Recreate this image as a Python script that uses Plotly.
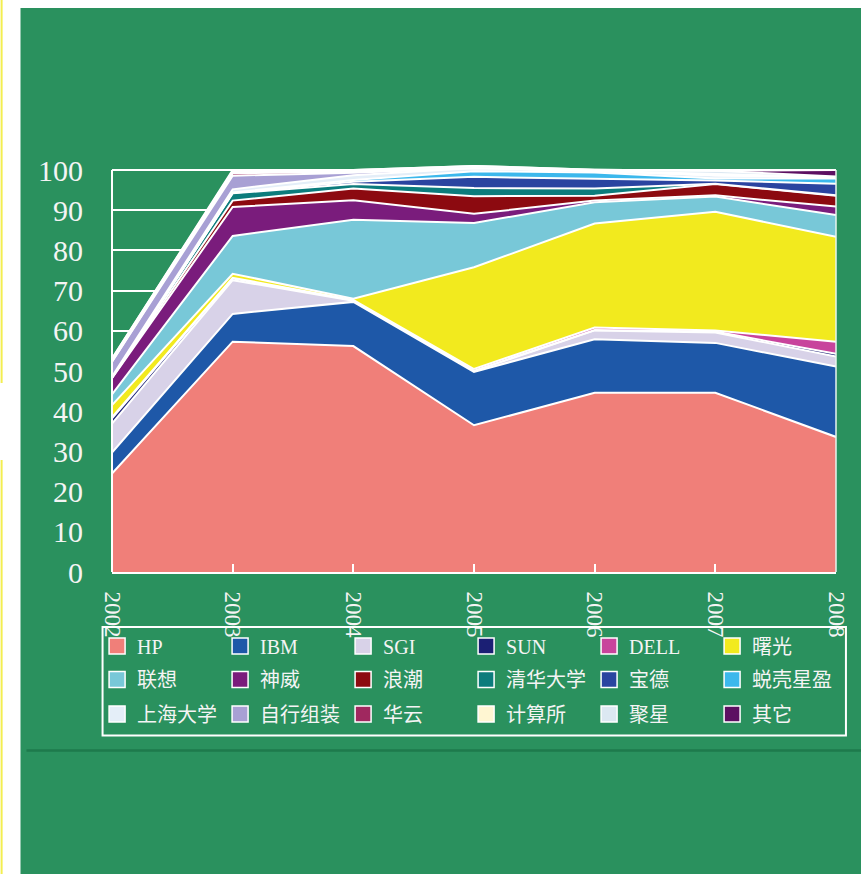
import plotly.graph_objects as go

years = [2002, 2003, 2004, 2005, 2006, 2007, 2008]
year_labels = ["2002", "2003", "2004", "2005", "2006", "2007", "2008"]

names = ["HP", "IBM", "SGI", "SUN", "DELL", "曙光",
         "联想", "神威", "浪潮", "清华大学", "宝德", "蜕壳星盈",
         "上海大学", "自行组装", "华云", "计算所", "聚星", "其它"]

hp      = [24.5, 57.3, 56.2, 36.5, 44.6, 44.6, 33.6]
ibm     = [5.2, 6.9, 11.0, 13.3, 13.3, 12.4, 17.5]
sgi     = [7.2, 8.4, 0.3, 0.2, 2.2, 2.6, 2.5]
sun     = [1.3, 0.4, 0.1, 0.1, 0.1, 0.2, 0.7]
dell    = [0.3, 0.2, 0.1, 0.4, 0.6, 0.3, 3.0]
shuguang = [3.0, 1.0, 0.3, 25.3, 25.9, 29.5, 26.1]
lenovo  = [2.7, 9.4, 19.6, 11.0, 5.3, 3.8, 5.4]
shenwei = [4.0, 7.2, 4.9, 2.3, 0.4, 0.3, 2.1]
langchao = [0.1, 1.6, 2.9, 4.4, 1.2, 2.8, 2.7]
tsinghua = [0.1, 1.8, 1.1, 2.0, 1.8, 0.1, 0.1]
baode   = [0.0, 0.1, 0.6, 2.8, 2.4, 0.8, 2.9]
xingying = [0.0, 0.1, 0.4, 1.4, 1.6, 0.5, 1.3]
shu     = [0.2, 0.8, 1.2, 0.8, 0.4, 0.8, 0.3]
selfbuilt = [3.7, 3.4, 0.6, 0.0, 0.0, 0.0, 0.0]
huayun  = [0.0, 0.6, 0.2, 0.0, 0.0, 0.0, 0.0]
ict     = [0.3, 0.2, 0.2, 0.0, 0.0, 0.3, 0.0]
juxing  = [0.5, 0.3, 0.3, 0.5, 0.3, 0.8, 0.2]
others  = [0.0, 0.3, 0.0, 0.0, 0.0, 0.0, 1.6]

series = [hp, ibm, sgi, sun, dell, shuguang, lenovo, shenwei, langchao,
          tsinghua, baode, xingying, shu, selfbuilt, huayun, ict, juxing, others]

colors = ["#F07F79", "#1E58A8", "#D8D2E8", "#1B1F74", "#C8449C", "#F2EA1E",
          "#78C8D8", "#7A1C7C", "#8C0A10", "#0C7C7C", "#2A44A0", "#3CB8EC",
          "#E4EEF8", "#A8A0D4", "#A0285F", "#FFF6D2", "#DCE8F2", "#5C1062"]

GREEN = "#2A915E"
FONT = "Liberation Serif, Noto Sans CJK SC, serif"

fig = go.Figure()

for name, vals, col in zip(names, series, colors):
    fig.add_trace(go.Scatter(
        x=years, y=vals, name=name, mode="lines",
        stackgroup="one", line=dict(color="white", width=2),
        fillcolor=col, showlegend=False, hoverinfo="skip"))

legend_ids = ["legend", "legend2", "legend3"]
for i, (name, col) in enumerate(zip(names, colors)):
    fig.add_trace(go.Scatter(
        x=[None], y=[None], name=name, mode="markers",
        marker=dict(symbol="square", size=16, color=col,
                    line=dict(color="white", width=1.5)),
        legend=legend_ids[i // 6], showlegend=True))

# geometry helpers (pixel -> paper)
L, R, T, B = 112, 21, 164, 302
W, H = 861, 874
PW, PH = W - L - R, H - T - B


def xp(px):
    return (px - L) / PW


def yp(py):
    return (H - B - py) / PH


legend_common = dict(orientation="h", xanchor="left", yanchor="middle",
                     x=xp(97), bgcolor="rgba(0,0,0,0)", borderwidth=0,
                     entrywidth=78, entrywidthmode="pixels",
                     traceorder="normal",
                     font=dict(family=FONT, size=20, color="#F4F4F4"))

shapes = [
    # white left strip and top strip
    dict(type="rect", xref="paper", yref="paper", x0=xp(-5), x1=xp(20),
         y0=yp(-5), y1=yp(880), fillcolor="white", line=dict(width=0)),
    dict(type="rect", xref="paper", yref="paper", x0=xp(-5), x1=xp(870),
         y0=yp(-5), y1=yp(8), fillcolor="white", line=dict(width=0)),
    # yellow edge lines
    dict(type="line", xref="paper", yref="paper", x0=xp(1), x1=xp(1),
         y0=yp(0), y1=yp(383), line=dict(color="#F3EE50", width=2)),
    dict(type="line", xref="paper", yref="paper", x0=xp(1), x1=xp(1),
         y0=yp(460), y1=yp(874), line=dict(color="#F3EE50", width=2)),
    # dark separator line
    dict(type="line", xref="paper", yref="paper", x0=xp(26), x1=xp(870),
         y0=yp(750.5), y1=yp(750.5), line=dict(color="#1E7A4C", width=2.5)),
    # legend box
    dict(type="rect", xref="paper", yref="paper", x0=xp(102.5), x1=xp(850),
         y0=yp(627), y1=yp(735.5), line=dict(color="white", width=2),
         fillcolor="rgba(0,0,0,0)"),
    # left and right plot borders
    dict(type="line", xref="paper", yref="y", x0=0, x1=0, y0=0, y1=100,
         line=dict(color="white", width=2)),
    dict(type="line", xref="paper", yref="y", x0=1, x1=1, y0=0, y1=100,
         line=dict(color="#E8F4EE", width=1.5)),
]

fig.update_layout(
    width=W, height=H,
    margin=dict(l=L, r=R, t=T, b=B),
    paper_bgcolor=GREEN, plot_bgcolor=GREEN,
    font=dict(family=FONT, color="#F4F4F4"),
    showlegend=True,
    legend=dict(legend_common, y=yp(646)),
    legend2=dict(legend_common, y=yp(679.5)),
    legend3=dict(legend_common, y=yp(714)),
    shapes=shapes,
    xaxis=dict(range=[2002, 2008], tickvals=years, ticktext=year_labels,
               tickangle=90, ticks="inside", ticklen=8, tickwidth=2,
               tickcolor="white", showline=True, linecolor="white",
               linewidth=2, showgrid=False, zeroline=False,
               ticklabelstandoff=13,
               tickfont=dict(family=FONT, size=23, color="#F4F4F4")),
    yaxis=dict(range=[0, 101.5], tickvals=list(range(0, 101, 10)),
               showgrid=True, gridcolor="white", gridwidth=2,
               zeroline=False, showline=False, ticks="",
               ticklabelstandoff=28,
               tickfont=dict(family=FONT, size=30, color="#F4F4F4")),
)

fig.write_html("out.html")
